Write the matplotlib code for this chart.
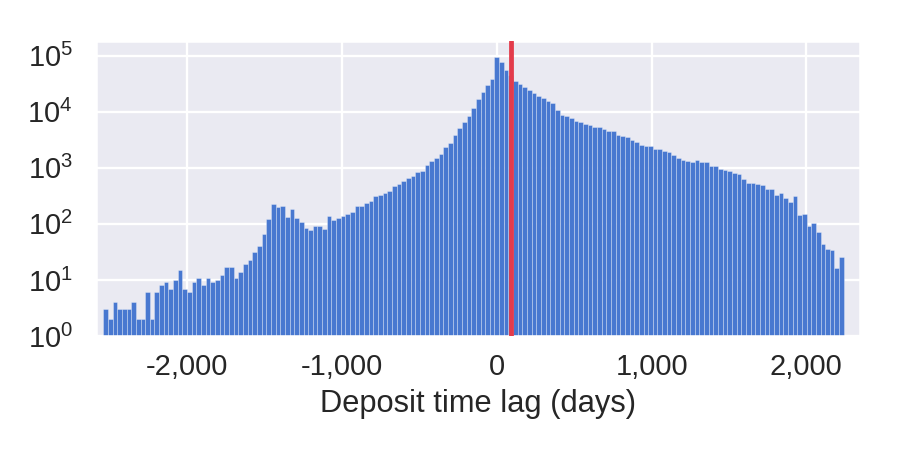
import matplotlib
matplotlib.use("Agg")
import matplotlib.pyplot as plt
from matplotlib.ticker import FuncFormatter, LogLocator, NullLocator
import numpy as np
import seaborn as sns

# counts per ~30 day bin, left to right
counts_far_left = [3, 2, 4, 3, 3, 3, 4, 2, 2, 6, 2, 6, 8, 9, 7, 10, 15, 7, 6, 9,
                   11, 8, 11, 9, 10, 12]
counts_left = [17, 17, 11, 14, 19, 23, 32, 40, 65, 121, 225, 199, 212, 135, 183,
               128, 106, 85, 77, 93, 93, 82, 137, 119, 128, 139, 147]
counts_mid_left = [162, 204, 210, 237, 257, 311, 325, 353, 389, 474, 511, 579, 662,
                   699, 829, 886, 1100, 1334, 1507, 1745, 2350, 2810, 3820, 5030,
                   6610, 8480, 11800]
counts_peak = [17100, 22800, 29500, 37700, 96000, 77100, 56200, 45000, 35300, 30800,
               27200, 24700, 21500, 19300, 17500, 15200, 14300, 10500, 8830, 8240,
               7590, 6910, 6440, 6100, 5690, 5330, 5300]
counts_mid_right = [4900, 4590, 4450, 3830, 3630, 3470, 3120, 2910, 2540, 2400, 2400,
                    2120, 2150, 2000, 1870, 1660, 1470, 1350, 1333, 1280, 1350, 1245,
                    1245, 1086, 1070, 957, 910]
counts_right = [859, 804, 781, 635, 542, 527, 504, 492, 410, 422, 331, 356, 287, 240,
                316, 143, 149, 93, 104, 71, 43, 36, 34, 16, 26]

bin_lo = -2543
bin_hi = 2242
threshold_days = 90
x_ticks = [-2000, -1000, 0, 1000, 2000]


def plot():
	counts = np.array(counts_far_left + counts_left + counts_mid_left
	                  + counts_peak + counts_mid_right + counts_right, dtype=float)
	edges = np.linspace(bin_lo, bin_hi, len(counts) + 1)
	centers = (edges[:-1] + edges[1:]) / 2

	sns.set_theme(style="darkgrid")
	plt.rcParams['font.family'] = ['Liberation Sans', 'DejaVu Sans']
	plt.rcParams['mathtext.fontset'] = 'custom'
	plt.rcParams['mathtext.rm'] = 'Liberation Sans'
	plt.rcParams['mathtext.it'] = 'Liberation Sans:italic'
	plt.rcParams['mathtext.bf'] = 'Liberation Sans:bold'

	fig = plt.figure(figsize=(6, 3), dpi=150)
	ax = fig.add_axes([0.1063, 0.2533, 0.8493, 0.6563])

	ax.hist(centers, bins=edges, weights=counts, color='#4878d0',
	        edgecolor=(1, 1, 1, 0.35), linewidth=0.4)
	ax.axvline(threshold_days, color='#e33b4b', linewidth=2.3, zorder=5)

	ax.set_yscale('log')
	ax.set_ylim(1, 1.84e5)
	ax.set_xlim(-2592, 2347)
	ax.yaxis.set_major_locator(LogLocator(base=10, numticks=10))
	ax.yaxis.set_minor_locator(NullLocator())

	ax.set_xticks(x_ticks)
	ax.xaxis.set_major_formatter(FuncFormatter(lambda v, p: '{:,.0f}'.format(v)))
	ax.tick_params(axis='both', length=0, labelsize=13.9, colors='#262626')
	ax.tick_params(axis='y', pad=11)
	ax.tick_params(axis='x', pad=8)
	ax.grid(color='white', linewidth=1.1)

	ax.set_xlabel('Deposit time lag (days)', fontsize=14.8, color='#262626', labelpad=4)

	plt.savefig('out.png', dpi=150)


if __name__ == "__main__":
	plot()
